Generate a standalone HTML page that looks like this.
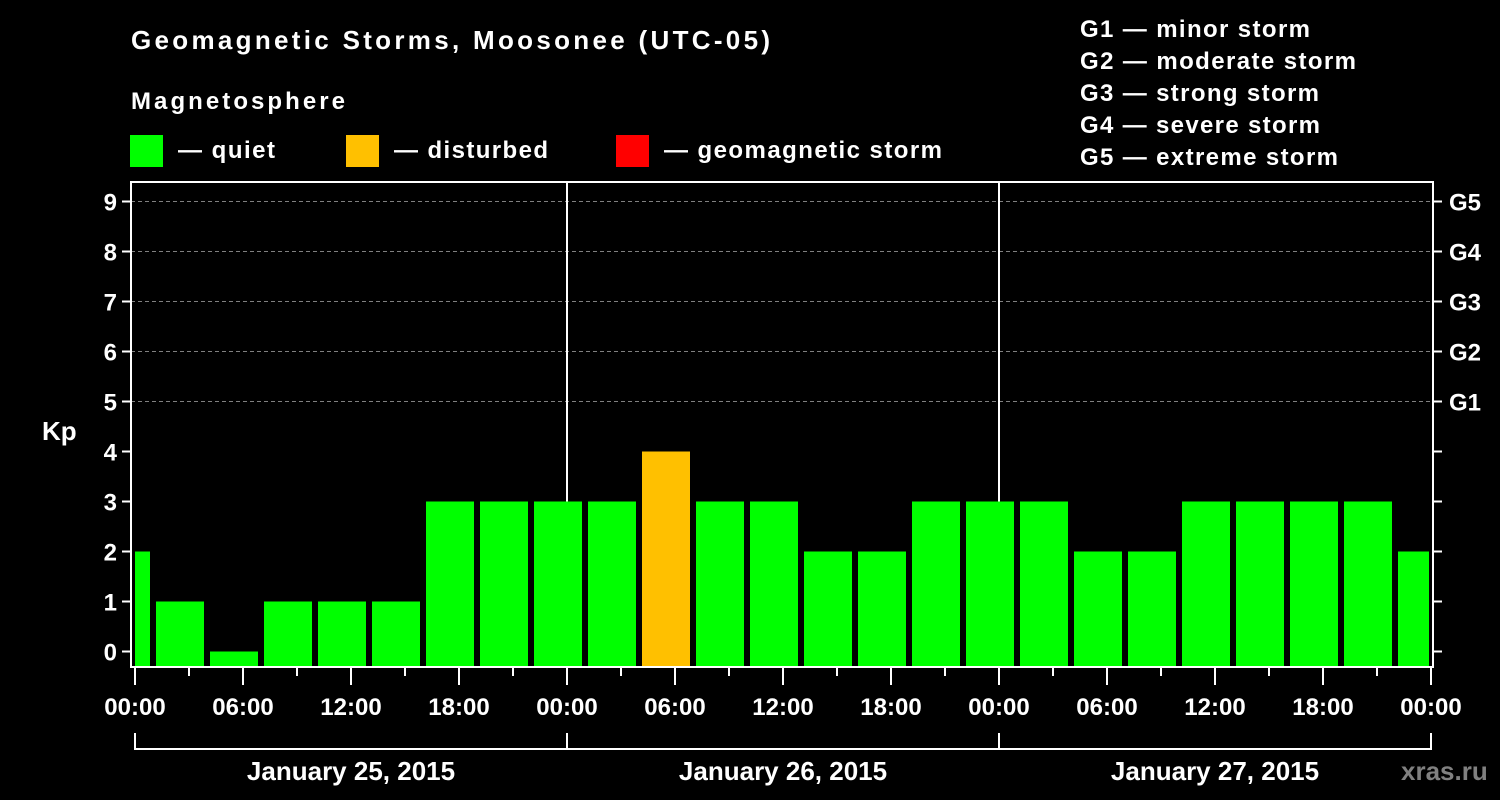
<!DOCTYPE html>
<html><head><meta charset="utf-8"><style>
html,body{margin:0;padding:0;background:#000;}
svg{display:block;font-family:"Liberation Sans",Arial,sans-serif;font-weight:bold;}
</style></head><body>
<svg id="chart" width="1500" height="800" viewBox="0 0 1500 800" xmlns="http://www.w3.org/2000/svg">
<rect x="0" y="0" width="1500" height="800" fill="#000"/>
<text x="131" y="49" fill="#fff" font-size="26" textLength="639">Geomagnetic Storms, Moosonee (UTC-05)</text>
<text x="131" y="109" fill="#fff" font-size="24" textLength="214">Magnetosphere</text>
<g>
<rect x="130" y="135" width="33" height="32" fill="#00ff00"/>
<text x="178" y="158" fill="#fff" font-size="24" textLength="97">— quiet</text></g>
<g>
<rect x="346" y="135" width="33" height="32" fill="#ffc000"/>
<text x="394" y="158" fill="#fff" font-size="24" textLength="154">— disturbed</text></g>
<g>
<rect x="616" y="135" width="33" height="32" fill="#ff0000"/>
<text x="664" y="158" fill="#fff" font-size="24" textLength="278">— geomagnetic storm</text></g>
<g fill="#fff" font-size="24">
<text x="1080" y="37" textLength="230">G1 — minor storm</text>
<text x="1080" y="69" textLength="276">G2 — moderate storm</text>
<text x="1080" y="101" textLength="239">G3 — strong storm</text>
<text x="1080" y="133" textLength="240">G4 — severe storm</text>
<text x="1080" y="165" textLength="258">G5 — extreme storm</text>
</g>
<text x="42" y="440" fill="#fff" font-size="26">Kp</text>
<g id="grid"></g><g id="bars"></g><g id="axes"></g>
<text x="1401" y="780" fill="#808080" font-size="26">xras.ru</text>
</svg>
<script>
const kpValues=[2,1,0,1,1,1,3,3,3,3,4,3,3,2,2,3,3,3,2,2,3,3,3,3,2];
const yTicks=[0,1,2,3,4,5,6,7,8,9];
const gLabels=["G1","G2","G3","G4","G5"];
const gLevels=[5,6,7,8,9];
const dayLabels=["January 25, 2015","January 26, 2015","January 27, 2015"];
const xTickLabels=["00:00","06:00","12:00","18:00","00:00","06:00","12:00","18:00","00:00","06:00","12:00","18:00","00:00"];
const startHour=-2, barHours=3;
const NS="http://www.w3.org/2000/svg";
const X0=135,PXH=18,LEFT=131,RIGHT=1433,TOP=182,BOT=667;
const xs=h=>X0+h*PXH, ys=v=>651.5-v*50;
function mk(tag,attrs,parent,txt){const e=document.createElementNS(NS,tag);for(const k in attrs)e.setAttribute(k,attrs[k]);if(txt!==undefined)e.textContent=txt;parent.appendChild(e);return e;}
const grid=document.getElementById('grid'),bars=document.getElementById('bars'),axes=document.getElementById('axes');
gLevels.forEach(v=>{const l=mk('line',{x1:LEFT,x2:RIGHT,y1:ys(v),y2:ys(v),stroke:'#808080','stroke-width':1,'stroke-dasharray':'4,3'},grid);

});
[1,2].forEach(d=>{const l=mk('line',{x1:xs(d*24),x2:xs(d*24),y1:TOP,y2:BOT,stroke:'#fff','stroke-width':2},grid);

});
kpValues.forEach((v,i)=>{
 const h0=startHour+i*barHours,h1=h0+barHours;
 let x0=Math.max(xs(h0)+3,LEFT+4),x1=Math.min(xs(h1)-3,RIGHT-4);
 const col=v>=5?'#ff0000':(v>=4?'#ffc000':'#00ff00');
 const top=ys(v), bot=BOT;
 if(top>=bot-1)return;
 const r=mk('rect',{x:x0,y:top,width:x1-x0,height:bot-top,fill:col},bars);
 
 
});
const fr=mk('rect',{x:LEFT,y:TOP,width:RIGHT-LEFT,height:BOT-TOP,fill:'none',stroke:'#fff','stroke-width':2},axes);


yTicks.forEach(v=>{
 mk('line',{x1:122,x2:LEFT,y1:ys(v),y2:ys(v),stroke:'#fff','stroke-width':2},axes);
 mk('line',{x1:RIGHT,x2:1442,y1:ys(v),y2:ys(v),stroke:'#fff','stroke-width':2},axes);
 const t=mk('text',{x:117,y:ys(v)+9,fill:'#fff','font-size':24,'text-anchor':'end'},axes,String(v));
 
 
});
gLabels.forEach((g,i)=>{
 const t=mk('text',{x:1449,y:ys(gLevels[i])+9,fill:'#fff','font-size':24},axes,g);
 
 
});
for(let h=0;h<=72;h+=3){
 const major=h%6===0;
 mk('line',{x1:xs(h),x2:xs(h),y1:BOT,y2:BOT+(major?18:9),stroke:'#fff','stroke-width':2},axes);
}
xTickLabels.forEach((s,i)=>{
 const t=mk('text',{x:xs(i*6),y:715,fill:'#fff','font-size':24,'text-anchor':'middle'},axes,s);
 
 
});
dayLabels.forEach((s,d)=>{
 const p=mk('path',{d:`M${xs(d*24)},733 V749 H${xs(d*24+24)} V733`,stroke:'#fff','stroke-width':2,fill:'none'},axes);
 
 
 const t=mk('text',{x:xs(d*24+12),y:780,fill:'#fff','font-size':26,'text-anchor':'middle'},axes,s);
 
 
});
</script>
</body></html>
